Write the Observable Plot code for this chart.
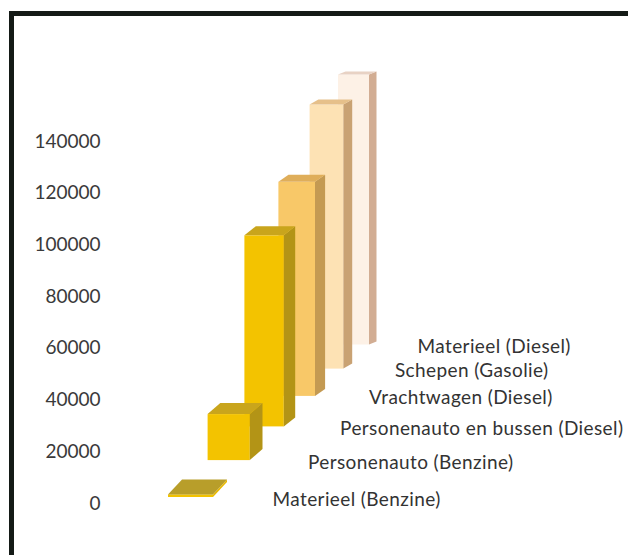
<!DOCTYPE html>
<html>
<head>
<meta charset="utf-8">
<script src="https://cdn.jsdelivr.net/npm/d3@7"></script>
<script src="https://cdn.jsdelivr.net/npm/@observablehq/plot@0.6"></script>
<style>
  html, body { margin: 0; padding: 0; background: #fff; }
  #wrap { position: relative; width: 628px; height: 555px; overflow: hidden; background: #fff; }
  #frame { position: absolute; left: 9px; top: 11px; width: 700px; height: 600px;
           border-left: 5px solid #141a16; border-top: 5px solid #141a16; pointer-events: none; }
  #chart { position: absolute; left: 0; top: 0; }
  .cat-labels text { letter-spacing: 0.4px; }
</style>
</head>
<body>
<div id="wrap"><div id="chart"></div><div id="frame"></div></div>
<script>
// ---- data ----
const categories = [
  "Materieel (Benzine)",
  "Personenauto (Benzine)",
  "Personenauto en bussen (Diesel)",
  "Vrachtwagen (Diesel)",
  "Schepen (Gasolie)",
  "Materieel (Diesel)"
];
const values = [1000, 17800, 73900, 82800, 102100, 104400];
const yTicks = [0, 20000, 40000, 60000, 80000, 100000, 120000, 140000];

// ---- styles ----
const frontColors = ["#f2c200", "#f3c300", "#f3c300", "#f8c868", "#fde2b4", "#fdf1e6"];
const sideColors  = ["#e8b800", "#b39416", "#b39416", "#c49a52", "#c9a273", "#d2ad93"];
const topColors   = ["#b89e2a", "#c9a51c", "#c9a51c", "#dfae5a", "#e6c08a", "#e8d2c4"];

// ---- pseudo-3D layout (pixel geometry of the depth projection) ----
const Y0 = 503, YTOP = 141;
const unitPerPx = 140000 / (Y0 - YTOP);
function geom(k) {
  const xl = 168 + 41 * k - 1.4 * k * k;
  const w = 45 - 2.8 * k;
  const basePx = 497 - 38.5 * k + 1.6 * k * k;
  const dx = 14 - 1.3 * k;
  const dy = (k === 0 ? 15 : 13 - 2 * k);
  const lx = 272 + 37 * k - 1.6 * k * k;
  return {xl, xr: xl + w, base: (Y0 - basePx) * unitPerPx, dx, ddy: dy * unitPerPx,
          lx, ly: (Y0 - basePx - 2) * unitPerPx};
}

const bars = categories.map((name, k) => {
  const g = geom(k);
  return {k, name, value: values[k], ...g, top: g.base + values[k],
          front: frontColors[k], side: sideColors[k], topc: topColors[k]};
});

const marks = [];
for (let k = bars.length - 1; k >= 0; k--) {
  const b = bars[k];
  marks.push(Plot.rect([b], {x1: "xl", x2: "xr", y1: "base", y2: "top", fill: "front"}));
  const side = [
    {x: b.xr, y1: b.base, y2: b.top, c: b.side},
    {x: b.xr + b.dx, y1: b.base + b.ddy, y2: b.top + b.ddy, c: b.side}
  ];
  marks.push(Plot.areaY(side, {x: "x", y1: "y1", y2: "y2", fill: "c", z: null, curve: "linear"}));
  const topFace = [
    {y: b.top, x1: b.xl, x2: b.xr, c: b.topc},
    {y: b.top + b.ddy, x1: b.xl + b.dx, x2: b.xr + b.dx, c: b.topc}
  ];
  marks.push(Plot.areaX(topFace, {y: "y", x1: "x1", x2: "x2", fill: "c", z: null, curve: "linear"}));
}

const chart = Plot.plot({
  width: 628,
  height: 555,
  margin: 0,
  x: {domain: [0, 628], range: [0, 628], axis: null},
  y: {domain: [0, 140000], range: [Y0, YTOP]},
  color: {type: "identity"},
  style: {fontFamily: "Lato, 'Open Sans', sans-serif", fontSize: "19px", background: "transparent", color: "#3a3a3a"},
  marks: [
    Plot.axisY(yTicks, {anchor: "left", tickSize: 0, tickPadding: 0, dx: 100,
                        tickFormat: d => String(d), fontSize: 19, color: "#3a3a3a"}),
    ...marks,
    Plot.text(bars, {x: "lx", y: "ly", text: "name", textAnchor: "start",
                     fontSize: 19, fill: "#333", className: "cat-labels"})
  ]
});
document.getElementById("chart").appendChild(chart);
</script>
</body>
</html>
